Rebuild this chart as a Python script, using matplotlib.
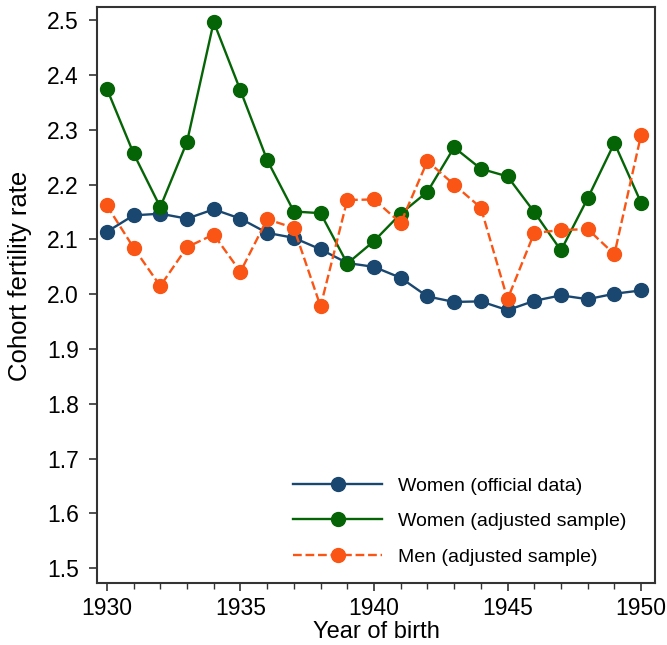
import numpy as np
import matplotlib
matplotlib.use("Agg")
import matplotlib.pyplot as plt
from matplotlib.ticker import MultipleLocator

plt.rcParams["font.family"] = ["Liberation Sans", "DejaVu Sans"]

years = np.arange(1930, 1951)
women_official = [2.114, 2.144, 2.147, 2.138, 2.155, 2.138, 2.112, 2.103, 2.082, 2.057, 2.050,
                  2.030, 1.996, 1.986, 1.987, 1.971, 1.988, 1.998, 1.991, 2.001, 2.007]
women_adjusted = [2.375, 2.257, 2.159, 2.278, 2.497, 2.372, 2.245, 2.151, 2.148, 2.056, 2.097,
                  2.147, 2.187, 2.268, 2.229, 2.215, 2.150, 2.080, 2.175, 2.276, 2.167]
men_adjusted = [2.162, 2.085, 2.015, 2.086, 2.109, 2.041, 2.137, 2.121, 1.978, 2.172, 2.173,
                2.130, 2.243, 2.200, 2.158, 1.991, 2.112, 2.117, 2.119, 2.073, 2.291]

BLUE = "#1a476f"
GREEN = "#056405"
ORANGE = "#fa5514"

fig = plt.figure(figsize=(6.67, 6.45), dpi=100)
ax = fig.add_axes([0.1454, 0.096, 0.8366, 0.893])

ax.plot(years, women_official, "-o", color=BLUE, lw=1.7, ms=10,
        label="Women (official data)")
ax.plot(years, women_adjusted, "-o", color=GREEN, lw=1.7, ms=10,
        label="Women (adjusted sample)")
ax.plot(years, men_adjusted, "--o", color=ORANGE, lw=1.7, ms=10,
        label="Men (adjusted sample)")

ax.set_xlim(1929.63, 1950.52)
ax.set_ylim(1.473, 2.524)
ax.xaxis.set_major_locator(MultipleLocator(5))
ax.xaxis.set_minor_locator(MultipleLocator(1))
ax.yaxis.set_major_locator(MultipleLocator(0.1))
ax.yaxis.set_major_formatter(plt.FormatStrFormatter("%.1f"))
ax.tick_params(axis="both", which="major", direction="out", length=6, width=1.2,
               labelsize=16.5, color="#333333")
ax.tick_params(axis="x", which="major", pad=4)
ax.tick_params(axis="y", which="major", pad=7)
ax.tick_params(axis="x", which="minor", direction="out", length=4.5, width=1.0, color="#333333")
for sp in ax.spines.values():
    sp.set_linewidth(1.5)
    sp.set_color("#333333")

ax.set_xlabel("Year of birth", fontsize=17, labelpad=1)
ax.set_ylabel("Cohort fertility rate", fontsize=18.5)
ax.yaxis.set_label_coords(-0.1165, 0.533)

ax.legend(loc="upper left", bbox_to_anchor=(0.351, 0.184), frameon=False, fontsize=14,
          handlelength=4.6, numpoints=1, labelspacing=0.92, handletextpad=0.8,
          borderpad=0, borderaxespad=0)

fig.savefig("out.png", dpi=100)
